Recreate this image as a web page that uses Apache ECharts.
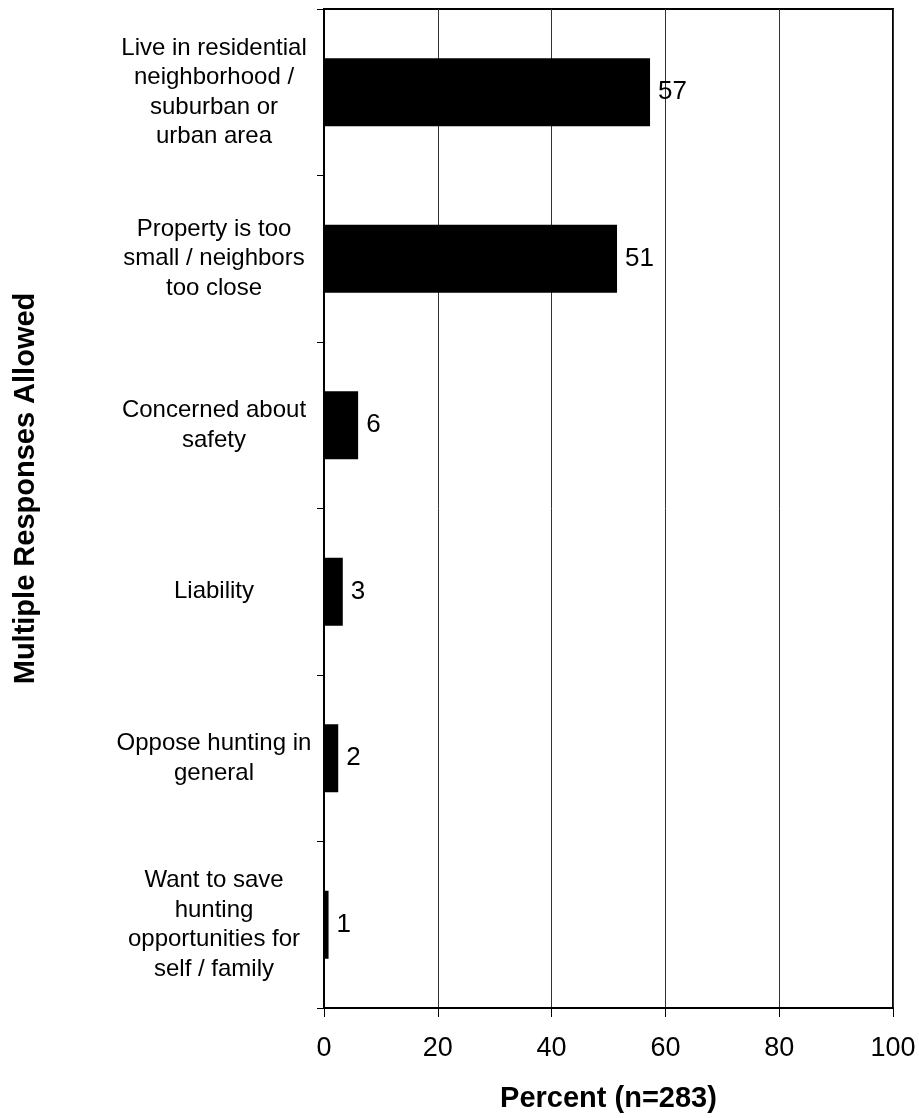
<!DOCTYPE html>
<html>
<head>
<meta charset="utf-8">
<script src="https://cdn.jsdelivr.net/npm/echarts@6/dist/echarts.min.js"></script>
<style>
  html, body { margin: 0; padding: 0; background: #fff; }
  #main { width: 919px; height: 1118px; }
</style>
</head>
<body>
<div id="main"></div>
<script>
// 类别（从上到下）
const categories = [
  'Live in residential\nneighborhood /\nsuburban or\nurban area',
  'Property is too\nsmall / neighbors\ntoo close',
  'Concerned about\nsafety',
  'Liability',
  'Oppose hunting in\ngeneral',
  'Want to save\nhunting\nopportunities for\nself / family'
]
// 条形长度
const percents = [57.3, 51.5, 6.0, 3.3, 2.5, 0.8]
// 条形上的标签
const valueLabels = ['57', '51', '6', '3', '2', '1']

const font = 'Liberation Sans, Arial, sans-serif'

let myChart = echarts.init(document.getElementById('main'))
myChart.setOption({
  animation: false,
  grid: {
    left: 324, right: 26, top: 9, bottom: 109,
    show: true, borderColor: '#000', borderWidth: 2
  },
  xAxis: {
    type: 'value',
    min: 0, max: 100, interval: 20,
    name: 'Percent (n=283)',
    nameLocation: 'middle',
    nameGap: 76,
    nameTextStyle: { fontFamily: font, fontSize: 29, fontWeight: 'bold', color: '#000' },
    axisLine: { show: true, lineStyle: { color: '#000', width: 2 } },
    axisTick: { show: true, length: 9, lineStyle: { color: '#000', width: 1 } },
    axisLabel: { fontFamily: font, fontSize: 27, color: '#000', margin: 27 },
    splitLine: { show: true, lineStyle: { color: '#333', width: 1 } }
  },
  yAxis: {
    type: 'category',
    inverse: true,
    data: categories,
    name: 'Multiple Responses Allowed',
    nameLocation: 'middle',
    nameGap: 284,
    nameRotate: 90,
    nameTextStyle: {
      fontFamily: font, fontSize: 29, fontWeight: 'bold', color: '#000',
      padding: [0, 0, 0, 40]
    },
    axisLine: { show: true, lineStyle: { color: '#000', width: 2 } },
    axisTick: { show: true, length: 7, lineStyle: { color: '#000', width: 1 } },
    axisLabel: {
      fontFamily: font, fontSize: 24, color: '#000',
      align: 'center', margin: 110, lineHeight: 29.5
    }
  },
  series: [{
    type: 'bar',
    data: percents,
    barWidth: 68,
    itemStyle: { color: '#000' },
    label: {
      show: true,
      position: 'right',
      distance: 8,
      fontFamily: font, fontSize: 26, color: '#000',
      formatter: p => valueLabels[p.dataIndex]
    }
  }]
})
</script>
</body>
</html>
